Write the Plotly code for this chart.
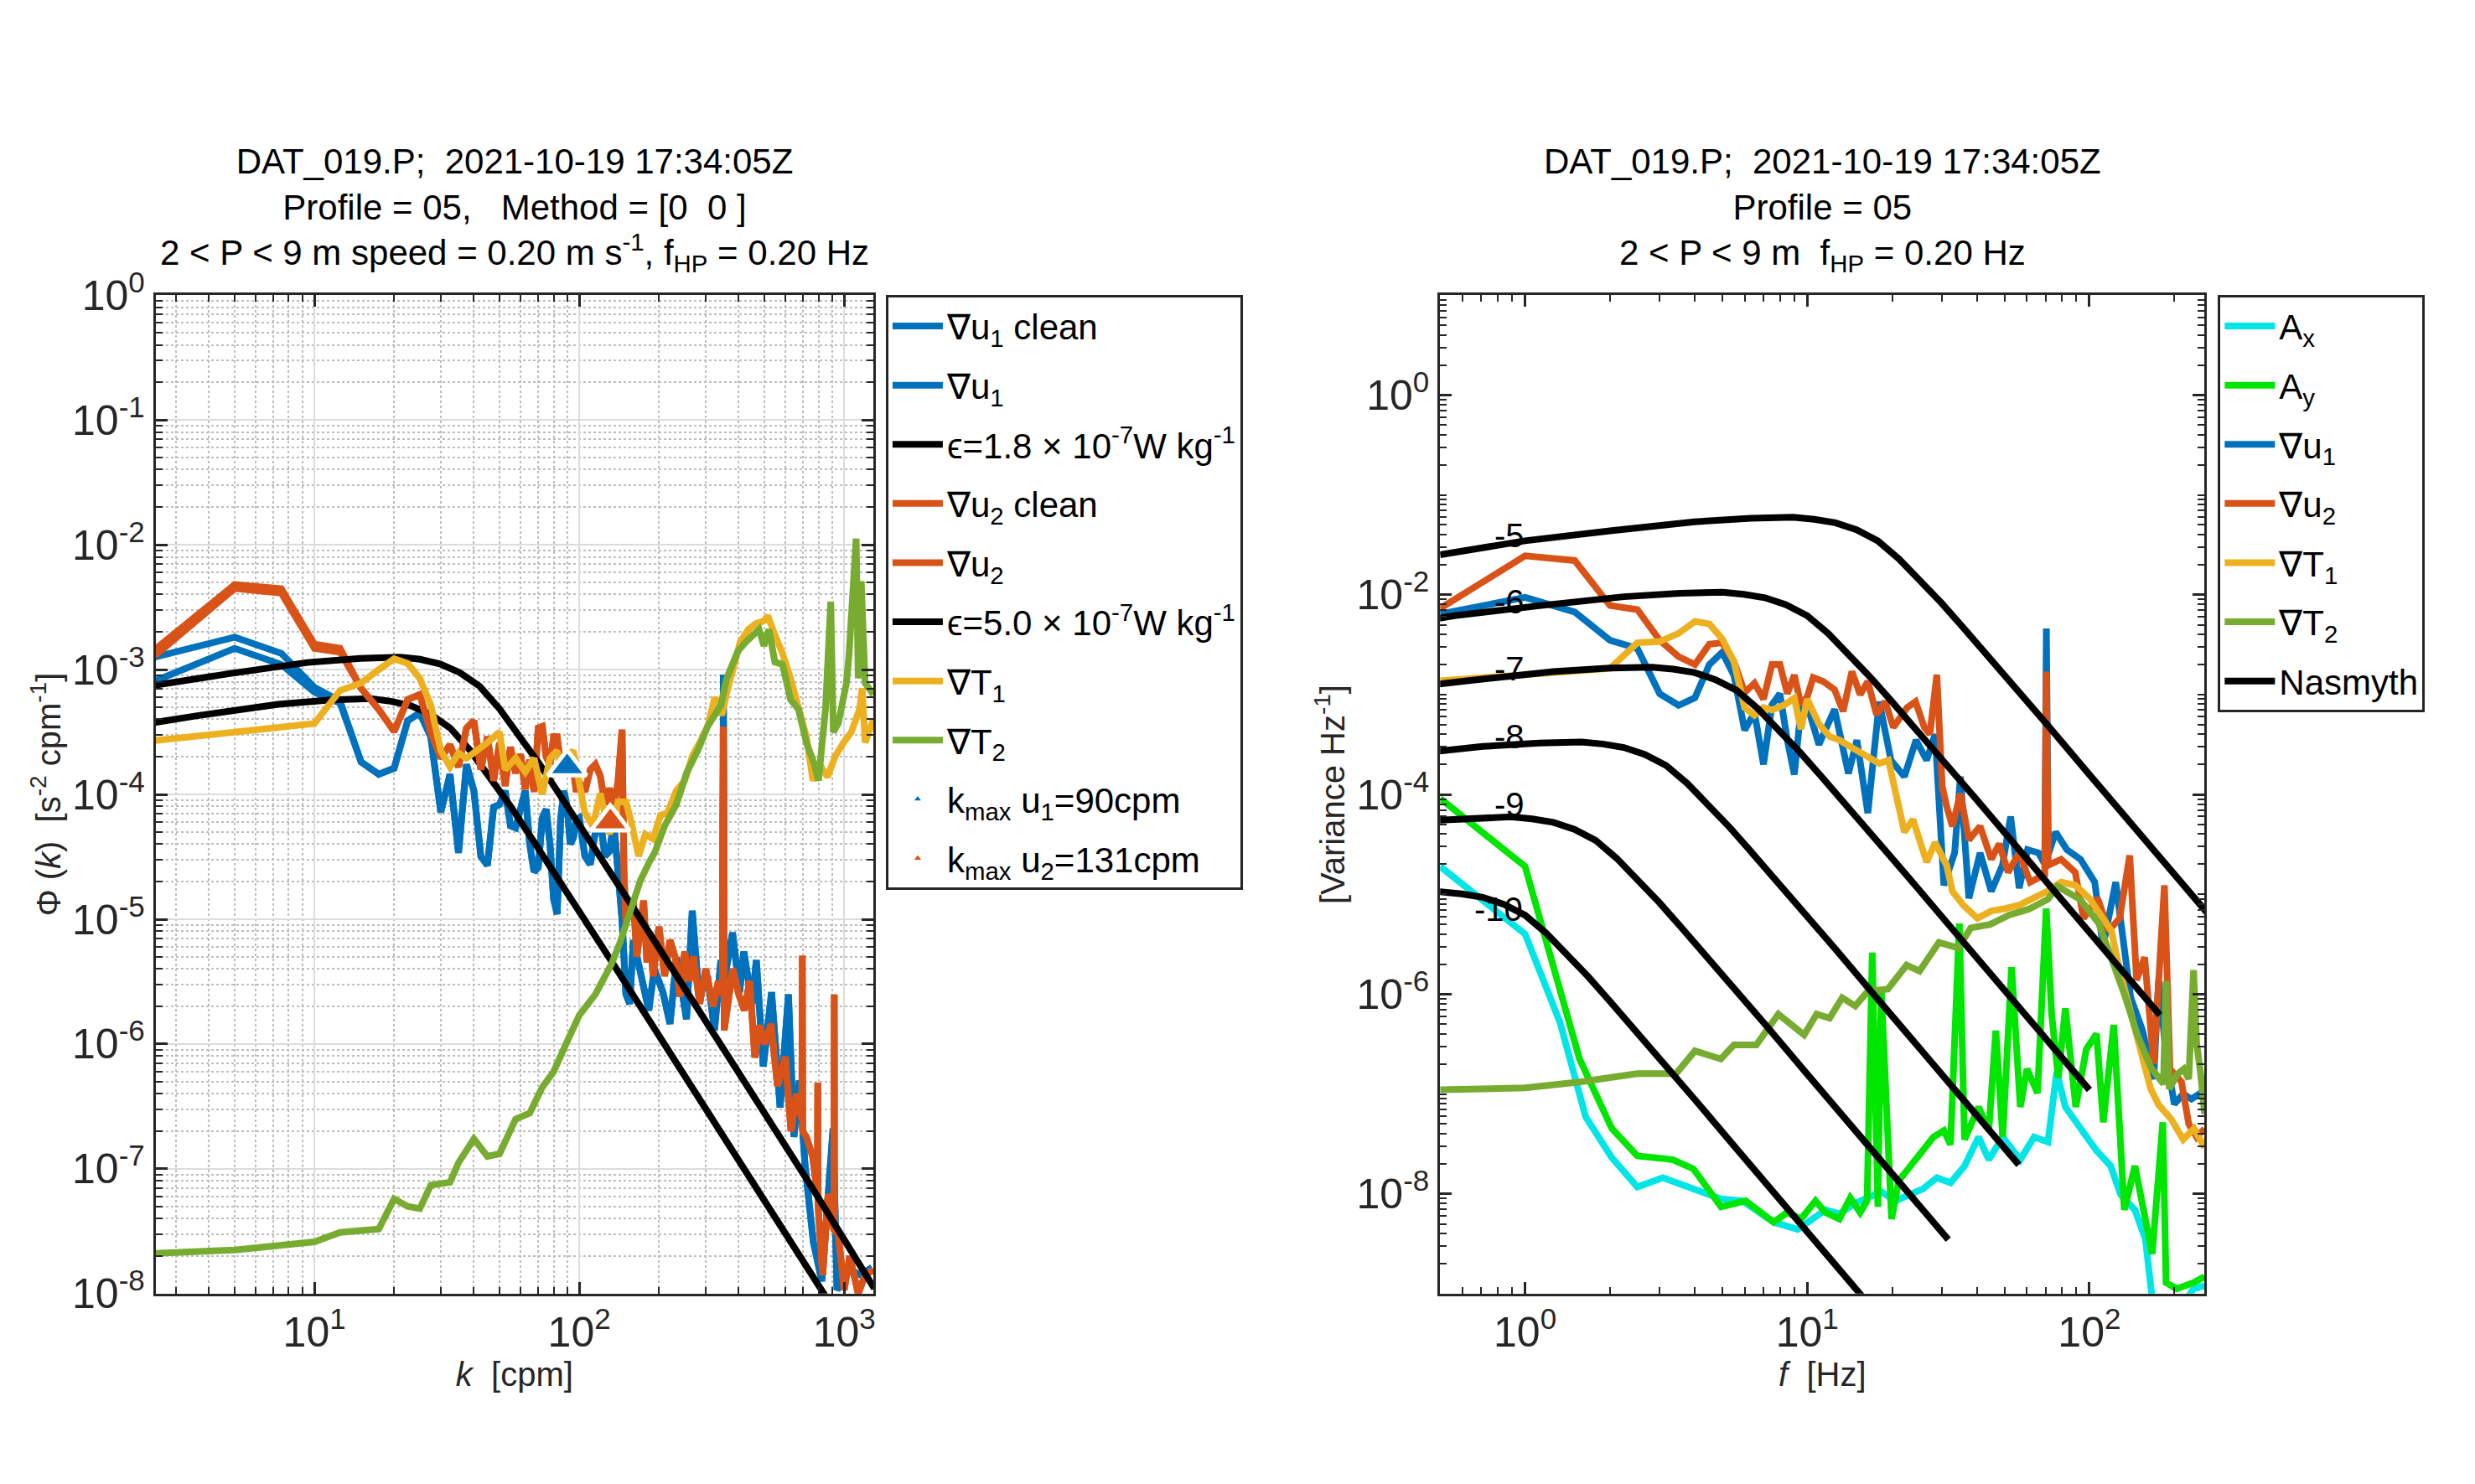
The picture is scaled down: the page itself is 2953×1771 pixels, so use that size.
"""
Shear-probe spectra for DAT_019.P, profile 05: wavenumber spectra with Nasmyth
fits (left) and frequency spectra of every channel with a Nasmyth family (right).
"""

import numpy as np
import plotly.graph_objects as go

# ---------------- left panel: wavenumber spectra [cpm, s^-2 cpm^-1] ----------------
K_LOW = [2.5, 5, 7.5, 10, 12.5]
U1_LOW_CLEAN = [8.1e-4, 1.48e-3, 1.10e-3, 6.6e-4, 5.4e-4]
U1_LOW = [1.26e-3, 1.82e-3, 1.35e-3, 7.2e-4, 5.6e-4]
U2_LOW_CLEAN = [1.29e-3, 4.47e-3, 4.1e-3, 1.48e-3, 1.38e-3]
U2_LOW = [1.45e-3, 4.8e-3, 4.45e-3, 1.6e-3, 1.48e-3]

K_U1 = [15, 17.5, 20, 22.5, 25, 27.5, 30, 32.5, 35, 37.5, 40, 42.5, 45, 47.5, 50,
        52.5, 55, 57.5, 60, 62.5, 65, 67.5, 70, 72.5, 75, 77.5, 80, 82.5, 85, 87.5,
        90, 92.5, 95, 97.5, 100, 105, 110, 115, 120, 125, 130, 135, 140, 145, 150,
        155, 160, 170, 183, 192, 207, 220, 233, 254, 267, 283, 305, 324, 342.5,
        347.5, 350, 352.5, 379, 403, 418, 449, 466, 495, 532, 573, 616, 646, 678,
        711, 765, 824, 908, 940, 1050, 1156, 1274]
PHI_U1 = [1.82e-4, 1.45e-4, 1.62e-4, 3.9e-4, 4.5e-4, 2.9e-4, 7.2e-5, 1.45e-4, 3.4e-5,
          1.74e-4, 1.07e-4, 3.2e-5, 2.7e-5, 7.9e-5, 8.3e-5, 1.07e-4, 5.6e-5, 5.4e-5,
          7.9e-5, 1.07e-4, 4.0e-5, 2.4e-5, 2.6e-5, 6.5e-5, 7.6e-5, 4.0e-5, 1.45e-5,
          1.10e-5, 6.3e-5, 1.07e-4, 7.9e-5, 4.0e-5, 4.5e-5, 6.3e-5, 6.5e-5, 3.2e-5,
          2.75e-5, 5.0e-5, 6.3e-5, 3.2e-5, 3.5e-5, 5.9e-5, 2.4e-5, 1.0e-5, 2.5e-6,
          2.1e-6, 6.8e-6, 3.6e-6, 1.86e-6, 4.0e-6, 2.6e-6, 1.45e-6, 4.9e-6, 1.58e-6,
          1.17e-5, 2.4e-6, 3.5e-6, 1.29e-6, 4.7e-6, 4.0e-6, 9.1e-4, 3.2e-6, 7.8e-6,
          2.6e-6, 5.5e-6, 2.1e-6, 4.7e-6, 6.6e-7, 2.6e-6, 3.1e-7, 2.5e-6, 1.8e-7,
          5.1e-7, 1.10e-7, 2.6e-8, 1.26e-8, 2.1e-7, 1.07e-8, 1.55e-8, 1.41e-8, 1.62e-8]

K_U2 = [15, 17.5, 20, 22.5, 25, 27.5, 30, 32.5, 35, 37.5, 40, 42.5, 45, 47.5, 50,
        52.5, 55, 57.5, 60, 62.5, 65, 67.5, 70, 72.5, 75, 77.5, 80, 82.5, 85, 87.5,
        90, 92.5, 95, 97.5, 100, 105, 110, 115, 120, 125, 130, 135, 140, 145, 147.5,
        150, 155, 160, 165, 170, 175, 180, 185, 190, 195, 200, 210, 220, 230, 240,
        250, 260, 270, 285, 300, 320, 335, 347.5, 350, 352.5, 380, 400, 420, 440,
        460, 480, 500, 530, 560, 600, 630, 660, 692.5, 695, 697.5, 720, 760, 792.5,
        795, 797.5, 830, 870, 915, 917.5, 920, 950, 1000, 1050, 1130, 1200, 1290]
PHI_U2 = [7.1e-4, 4.8e-4, 3.2e-4, 5.75e-4, 6.3e-4, 3.16e-4, 1.95e-4, 2.5e-4, 1.66e-4,
          3.4e-4, 3.9e-4, 1.58e-4, 2.9e-4, 1.29e-4, 2.6e-4, 1.17e-4, 2.4e-4, 1.48e-4,
          2.1e-4, 1.10e-4, 1.9e-4, 1.05e-4, 3.4e-4, 3.5e-4, 2.0e-4, 1.74e-4, 2.9e-4,
          2.9e-4, 1.74e-4, 1.74e-4, 2.0e-4, 2.24e-4, 1.58e-4, 1.05e-4, 1.26e-4,
          1.05e-4, 1.58e-4, 1.74e-4, 1.41e-4, 8.3e-5, 1.12e-4, 7.9e-5, 1.26e-4, 3.3e-4,
          2.4e-5, 9.5e-6, 1.12e-5, 1.41e-5, 5.0e-6, 8.9e-6, 1.41e-5, 4.5e-6, 7.9e-6,
          3.5e-6, 6.3e-6, 8.7e-6, 3.5e-6, 6.8e-6, 5.0e-6, 2.4e-6, 5.5e-6, 3.2e-6,
          5.0e-6, 2.1e-6, 4.0e-6, 2.0e-6, 3.2e-6, 2.5e-6, 3.5e-4, 1.29e-6, 4.0e-6,
          2.5e-6, 1.86e-6, 3.2e-6, 7.8e-7, 1.41e-6, 1.0e-6, 1.45e-6, 4.6e-7, 7.9e-7,
          2.0e-7, 4.0e-7, 2.5e-7, 5.1e-6, 2.0e-7, 1.8e-7, 1.26e-7, 6.3e-8, 4.9e-7,
          5.0e-8, 1.41e-8, 6.3e-8, 3.2e-8, 2.5e-6, 3.2e-8, 3.0e-8, 1.07e-8, 2.0e-8,
          1.0e-8, 1.41e-8, 1.55e-8]

K_T1 = [2.5, 5, 7.5, 10, 12.5, 15, 17.5, 20, 22.5, 25, 27.5, 30, 32.5, 35, 37.5, 42.5,
        45, 50, 52.5, 57.5, 62.5, 67.5, 72.5, 77.5, 82.5, 85, 90, 95, 100, 105, 112.5,
        120, 130, 140, 150, 157.5, 167.5, 177.5, 190, 202.5, 215, 232.5, 250, 267.5,
        285, 305, 325, 345, 360, 377.5, 405, 435, 465, 497.5, 515, 547.5, 585, 627.5,
        672.5, 720, 762.5, 807.5, 865, 927.5, 995, 1065, 1142.5, 1170, 1200, 1290]
PHI_T1 = [2.7e-4, 3.16e-4, 3.4e-4, 3.7e-4, 6.8e-4, 7.8e-4, 1.0e-3, 1.22e-3, 1.12e-3,
          8.5e-4, 5.2e-4, 2.24e-4, 1.66e-4, 2.14e-4, 1.95e-4, 2.34e-4, 2.6e-4, 3.16e-4,
          1.58e-4, 1.95e-4, 1.51e-4, 1.95e-4, 1.0e-4, 1.95e-4, 2.24e-4, 1.58e-4,
          2.0e-4, 2.24e-4, 1.17e-4, 7.1e-5, 5.6e-5, 1.02e-4, 4.8e-5, 8.7e-5, 8.7e-5,
          5.9e-5, 3.2e-5, 4.8e-5, 4.4e-5, 6.8e-5, 7.1e-5, 1.07e-4, 1.29e-4, 2.04e-4,
          2.6e-4, 3.5e-4, 6.0e-4, 4.3e-4, 6.5e-4, 9.1e-4, 1.66e-3, 2.1e-3, 2.34e-3,
          2.45e-3, 2.7e-3, 1.9e-3, 1.35e-3, 8.5e-4, 4.8e-4, 2.9e-4, 1.29e-4, 1.74e-4,
          1.38e-4, 2.04e-4, 2.6e-4, 3.16e-4, 4.8e-4, 7.1e-4, 2.6e-4, 4.0e-4]

K_T2 = [2.5, 5, 10, 12.5, 17.5, 20, 22.5, 25, 27.5, 32.5, 35, 40, 45, 50, 57.5, 65,
        72.5, 80, 90, 100, 115, 132.5, 142.5, 155, 170, 185, 192.5, 210, 232.5, 255,
        280, 305, 342.5, 360, 397.5, 425, 455, 477.5, 497.5, 520, 547.5, 585, 627.5,
        672.5, 720, 772.5, 800, 850, 890, 910, 950, 1020, 1042.5, 1110, 1130, 1160,
        1200, 1290]
PHI_T2 = [2.1e-8, 2.24e-8, 2.6e-8, 3.1e-8, 3.3e-8, 5.75e-8, 5.0e-8, 4.8e-8, 7.4e-8,
          7.8e-8, 1.12e-7, 1.74e-7, 1.26e-7, 1.32e-7, 2.5e-7, 2.8e-7, 4.5e-7, 6.0e-7,
          1.05e-6, 1.7e-6, 2.5e-6, 4.4e-6, 6.5e-6, 1.15e-5, 2.04e-5, 2.95e-5, 3.4e-5,
          5.6e-5, 8.3e-5, 1.51e-4, 2.24e-4, 3.5e-4, 5.2e-4, 8.5e-4, 1.41e-3, 1.66e-3,
          1.9e-3, 2.1e-3, 1.55e-3, 2.1e-3, 1.15e-3, 1.10e-3, 5.75e-4, 4.8e-4, 2.6e-4,
          1.74e-4, 1.29e-4, 4.8e-4, 3.5e-3, 3.16e-4, 3.7e-4, 7.8e-4, 1.29e-3, 1.12e-2,
          8.5e-4, 5.1e-3, 7.8e-4, 6.3e-4]

# Nasmyth fits, eps = 1.8e-7 and 5.0e-7 W/kg
K_NAS_LO = [0.916, 1.832, 3.656, 7.295, 11.56, 16.33, 19.41, 23.07, 27.42, 32.58, 38.73,
            46.03, 54.70, 65.01, 91.83, 129.7, 183.2, 290.4, 579.4, 900]
PHI_NAS_LO = [2.47e-4, 3.40e-4, 4.29e-4, 5.27e-4, 5.71e-4, 5.85e-4, 5.58e-4, 5.15e-4,
              4.39e-4, 3.40e-4, 2.25e-4, 1.39e-4, 8.17e-5, 4.70e-5, 1.56e-5, 4.92e-6,
              1.56e-6, 3.40e-7, 3.40e-8, 7.9e-9]
K_NAS_HI = [1.183, 2.366, 4.721, 9.419, 14.93, 21.09, 25.06, 29.79, 35.40, 42.07, 50.0,
            59.43, 70.63, 83.95, 118.6, 167.5, 236.6, 375.0, 748.2, 1300]
PHI_NAS_HI = [5.32e-4, 7.35e-4, 9.25e-4, 1.14e-3, 1.23e-3, 1.26e-3, 1.21e-3, 1.11e-3,
              9.46e-4, 7.35e-4, 4.85e-4, 2.99e-4, 1.76e-4, 1.01e-4, 3.36e-5, 1.06e-5,
              3.36e-6, 7.35e-7, 7.35e-8, 1.1e-8]

K_MAX = [90, 131]
PHI_K_MAX = [1.66e-4, 6.0e-5]

# ---------------- right panel: frequency spectra [Hz, variance Hz^-1] ----------------
F_AX = [0.5, 1.0, 1.33, 1.64, 2.03, 2.5, 3.08, 3.8, 4.94, 5.9, 7.6, 9.25, 10.5, 11.6, 13,
        14.6, 16.3, 18.3, 20.5, 23, 25.7, 28.8, 32.2, 36.1, 40.5, 44, 49.3, 56.9, 63.7,
        71.3, 76.6, 82.2, 89.5, 97.5, 106, 119, 129, 145, 158, 167, 180, 215, 234, 256]
V_AX = [1.9e-5, 4.0e-6, 5.2e-7, 5.9e-8, 2.3e-8, 1.17e-8, 1.45e-8, 1.17e-8, 8.9e-9,
        8.5e-9, 5.2e-9, 4.4e-9, 5.6e-9, 6.9e-9, 6.3e-9, 7.9e-9, 9.1e-9, 1.05e-8, 8.5e-9,
        9.8e-9, 1.12e-8, 1.45e-8, 1.29e-8, 1.9e-8, 3.7e-8, 2.2e-8, 3.7e-8, 2.2e-8,
        3.7e-8, 3.3e-8, 1.66e-7, 7.4e-8, 5.2e-8, 3.7e-8, 2.7e-8, 1.9e-8, 9.8e-9, 6.9e-9,
        3.5e-9, 8.9e-10, 6.3e-10, 7.9e-10, 1.12e-9, 1.2e-9]

F_AY = [0.5, 1.0, 1.56, 2.03, 2.5, 3.33, 3.95, 4.95, 6.05, 7.6, 8.5, 9.5, 10.7, 11.6, 13,
        14.2, 15.4, 16.3, 17, 17.8, 18.3, 19.9, 21.1, 24.3, 28, 30.5, 32.2, 34.6, 36.1,
        40.5, 44, 46.6, 49.3, 53, 56.9, 60.1, 65.5, 70.3, 73.5, 77.6, 82.2, 89.5, 97.5,
        106, 112, 122, 133, 145, 158, 167, 182, 187, 204, 234, 256]
V_AY = [9.1e-5, 1.9e-5, 2.24e-7, 4.5e-8, 2.4e-8, 2.2e-8, 1.78e-8, 7.4e-9, 8.5e-9, 5.2e-9,
        6.5e-9, 5.6e-9, 8.5e-9, 6.5e-9, 5.6e-9, 9.1e-9, 6.5e-9, 8.5e-9, 2.6e-6, 7.4e-9,
        1.1e-6, 5.6e-9, 1.35e-8, 2.2e-8, 3.7e-8, 4.3e-8, 3.1e-8, 5.1e-6, 3.5e-8, 7.4e-8,
        4.3e-8, 4.3e-7, 3.7e-8, 1.86e-6, 7.4e-8, 1.78e-7, 1.02e-7, 7.2e-6, 6.3e-7,
        1.45e-7, 7.2e-7, 7.4e-8, 2.8e-7, 4.0e-7, 5.2e-8, 4.9e-7, 6.9e-9, 1.9e-8, 5.0e-9,
        2.5e-9, 5.2e-8, 1.29e-9, 1.12e-9, 1.29e-9, 1.48e-9]

F_U1 = [0.5, 1.0, 1.5, 2.0, 2.5, 3.0, 3.5, 4.0, 4.5, 5.0, 5.5, 6.0, 6.5, 7.0, 7.5, 8.0,
        8.5, 9.0, 9.5, 10, 11, 12.5, 14, 15, 16.4, 18, 19.8, 22.1, 24.3, 26.5, 28.4,
        30.5, 33.3, 34.9, 37.4, 41, 44.9, 49.2, 52.6, 56.4, 60.4, 66, 69.5, 70.4, 71.5,
        75.9, 83.2, 93, 104.5, 111.7, 124, 134, 140, 154, 169, 176, 187, 200, 215, 230,
        245, 256]
V_U1 = [6.4e-3, 9.4e-3, 6.7e-3, 3.5e-3, 2.9e-3, 1.02e-3, 7.8e-4, 9.3e-4, 2.0e-3, 2.65e-3,
        1.55e-3, 4.4e-4, 6.6e-4, 2.0e-4, 7.9e-4, 1.02e-3, 3.5e-4, 1.58e-4, 7.1e-4, 7.9e-4,
        3.16e-4, 7.1e-4, 1.62e-4, 3.5e-4, 6.5e-5, 8.5e-4, 2.2e-4, 1.51e-4, 3.5e-4,
        2.2e-4, 4.0e-4, 1.23e-5, 2.6e-5, 1.51e-4, 9.1e-6, 2.6e-5, 1.07e-5, 1.95e-5,
        6.0e-5, 1.15e-5, 2.8e-5, 2.6e-5, 2.0e-5, 4.6e-3, 2.5e-5, 4.2e-5, 2.8e-5, 2.24e-5,
        1.32e-5, 3.0e-6, 1.32e-5, 2.5e-6, 9.3e-7, 4.4e-7, 1.41e-7, 1.38e-6, 2.5e-7,
        7.9e-8, 1.0e-7, 8.9e-8, 1.0e-7, 8.9e-8]

F_U2 = [0.5, 1.0, 1.5, 2.0, 2.5, 3.0, 3.5, 4.0, 4.5, 5.0, 5.5, 6.0, 6.5, 7.0, 7.5, 8.0,
        8.5, 9.0, 9.5, 10, 10.5, 11.4, 12.5, 13.4, 14.4, 15.4, 16.4, 17.6, 18.9, 20.2,
        22.6, 24.2, 26, 27.2, 28.8, 30.1, 31.2, 32.7, 34.9, 37.4, 41, 44.9, 47.9, 51.5,
        56.4, 61.7, 69.5, 70.4, 71.5, 79.4, 89.1, 95.3, 107, 117, 128, 139, 147, 157,
        169, 184.5, 193, 212, 225, 240, 256]
V_U2 = [7.3e-3, 2.45e-2, 2.2e-2, 7.8e-3, 7.1e-3, 3.5e-3, 2.4e-3, 2.0e-3, 3.2e-3, 3.3e-3,
        2.14e-3, 1.05e-3, 1.3e-3, 9.0e-4, 2.0e-3, 2.0e-3, 1.02e-3, 1.57e-3, 7.9e-4,
        9.5e-4, 1.48e-3, 1.35e-3, 1.12e-3, 6.8e-4, 1.7e-3, 1.0e-3, 1.35e-3, 6.3e-4,
        8.5e-4, 4.7e-4, 7.4e-4, 8.5e-4, 4.7e-4, 4.0e-4, 1.58e-3, 1.2e-4, 7.6e-5, 4.8e-5,
        1.02e-4, 3.5e-5, 4.8e-5, 2.24e-5, 3.2e-5, 1.66e-5, 2.6e-5, 1.32e-5, 1.58e-5,
        1.7e-3, 1.95e-5, 2.24e-5, 1.66e-5, 5.75e-6, 9.1e-6, 4.3e-6, 5.75e-6, 2.45e-5,
        1.38e-6, 2.34e-6, 2.0e-7, 1.23e-5, 1.78e-7, 1.32e-7, 5.0e-8, 3.7e-8, 4.5e-8]

F_T1 = [0.5, 1.0, 2.0, 2.5, 3.0, 3.5, 4.0, 4.5, 5.0, 5.5, 6.0, 6.5, 7.0, 7.5, 8.3, 9.0,
        9.5, 10, 11, 12, 13, 14.4, 16.1, 18.0, 19.4, 20.7, 22.1, 23.7, 26.5, 28.4, 31.2,
        32.7, 35.7, 40.1, 44.9, 50.4, 56.4, 63.1, 70.8, 79.4, 89.1, 100, 111.7, 119.7,
        128, 140, 154, 165, 176, 195, 215, 235, 256]
V_T1 = [1.37e-3, 1.57e-3, 1.83e-3, 3.3e-3, 3.4e-3, 4.1e-3, 5.4e-3, 5.1e-3, 3.6e-3,
        2.14e-3, 7.4e-4, 6.2e-4, 7.4e-4, 7.0e-4, 7.9e-4, 9.2e-4, 4.5e-4, 9.0e-4, 5.1e-4,
        3.8e-4, 3.5e-4, 2.95e-4, 2.4e-4, 2.04e-4, 2.2e-4, 8.9e-5, 4.2e-5, 5.6e-5, 2.1e-5,
        3.3e-5, 1.95e-5, 1.07e-5, 7.8e-6, 5.75e-6, 6.8e-6, 7.2e-6, 7.8e-6, 9.1e-6,
        1.07e-5, 1.32e-5, 1.23e-5, 9.1e-6, 5.75e-6, 4.3e-6, 1.74e-6, 6.5e-7, 2.4e-7,
        1.12e-7, 7.8e-8, 5.6e-8, 3.5e-8, 4.5e-8, 2.9e-8]

F_T2 = [0.5, 1.0, 1.56, 2.5, 3.43, 4.0, 4.94, 5.5, 6.6, 7.9, 9.75, 10.8, 12, 13.3, 14.8,
        16.4, 19.3, 22.5, 25, 29.3, 34.3, 38, 44.5, 52, 61, 71.3, 77, 92.7, 108, 127, 133,
        148, 165, 183, 187, 192, 205, 216, 225, 234, 240, 248, 256]
V_T2 = [1.1e-7, 1.15e-7, 1.32e-7, 1.6e-7, 1.6e-7, 2.7e-7, 2.24e-7, 3.1e-7, 3.1e-7, 6.3e-7,
        3.9e-7, 6.3e-7, 5.75e-7, 9.2e-7, 7.6e-7, 1.07e-6, 1.12e-6, 1.95e-6, 1.7e-6,
        3.3e-6, 2.9e-6, 4.6e-6, 5.0e-6, 6.2e-6, 7.1e-6, 8.9e-6, 1.2e-5, 8.9e-6, 5.1e-6,
        1.48e-6, 1.0e-6, 3.9e-7, 1.86e-7, 1.26e-7, 1.35e-6, 1.12e-7, 1.58e-7, 1.78e-7,
        1.41e-7, 1.74e-6, 3.2e-7, 1.58e-7, 6.3e-8]

# Nasmyth family, log10(eps) = -5 ... -10
NAS_F_5 = [0.5, 1.0, 2.0, 3.98, 6.31, 8.91, 10.59, 12.59, 14.96, 17.78, 21.13, 25.12,
           29.85, 35.48, 50.12, 70.79, 100.0, 158.5, 316.2]
NAS_V_5 = [2.51e-2, 3.47e-2, 4.37e-2, 5.37e-2, 5.82e-2, 5.96e-2, 5.69e-2, 5.25e-2,
           4.47e-2, 3.47e-2, 2.29e-2, 1.41e-2, 8.32e-3, 4.79e-3, 1.58e-3, 5.01e-4,
           1.58e-4, 3.47e-5, 3.47e-6]
NAS_F_6 = [0.281, 0.562, 1.122, 2.239, 3.548, 5.012, 5.957, 7.079, 8.414, 10.0, 11.89,
           14.13, 16.79, 19.95, 28.18, 39.81, 56.23, 89.13, 177.8]
NAS_V_6 = [4.47e-3, 6.17e-3, 7.76e-3, 9.55e-3, 1.035e-2, 1.06e-2, 1.01e-2, 9.33e-3,
           7.94e-3, 6.17e-3, 4.07e-3, 2.51e-3, 1.48e-3, 8.51e-4, 2.82e-4, 8.91e-5,
           2.82e-5, 6.17e-6, 6.17e-7]
NAS_F_7 = [0.158, 0.316, 0.631, 1.259, 1.995, 2.818, 3.350, 3.981, 4.732, 5.623, 6.683,
           7.943, 9.441, 11.22, 15.85, 22.39, 31.62, 50.12, 100.0]
NAS_V_7 = [7.94e-4, 1.10e-3, 1.38e-3, 1.70e-3, 1.84e-3, 1.88e-3, 1.80e-3, 1.66e-3,
           1.41e-3, 1.10e-3, 7.24e-4, 4.47e-4, 2.63e-4, 1.51e-4, 5.01e-5, 1.58e-5,
           5.01e-6, 1.10e-6, 1.10e-7]
NAS_F_8 = [0.0889, 0.178, 0.355, 0.708, 1.122, 1.585, 1.884, 2.239, 2.661, 3.162, 3.758,
           4.467, 5.309, 6.310, 8.913, 12.59, 17.78, 28.18, 56.23]
NAS_V_8 = [1.41e-4, 1.95e-4, 2.45e-4, 3.02e-4, 3.27e-4, 3.35e-4, 3.20e-4, 2.95e-4,
           2.51e-4, 1.95e-4, 1.29e-4, 7.94e-5, 4.68e-5, 2.69e-5, 8.91e-6, 2.82e-6,
           8.91e-7, 1.95e-7, 1.95e-8]
NAS_F_9 = [0.05, 0.1, 0.2, 0.398, 0.631, 0.891, 1.059, 1.259, 1.496, 1.778, 2.113, 2.512,
           2.985, 3.548, 5.012, 7.079, 10.0, 15.85, 31.62]
NAS_V_9 = [2.51e-5, 3.47e-5, 4.37e-5, 5.37e-5, 5.82e-5, 5.96e-5, 5.69e-5, 5.25e-5,
           4.47e-5, 3.47e-5, 2.29e-5, 1.41e-5, 8.32e-6, 4.79e-6, 1.58e-6, 5.01e-7,
           1.58e-7, 3.47e-8, 3.47e-9]
NAS_F_10 = [0.0281, 0.0562, 0.112, 0.224, 0.355, 0.501, 0.596, 0.708, 0.841, 1.0, 1.189,
            1.413, 1.679, 1.995, 2.818, 3.981, 5.623, 8.913, 17.78]
NAS_V_10 = [4.47e-6, 6.17e-6, 7.76e-6, 9.55e-6, 1.035e-5, 1.06e-5, 1.01e-5, 9.33e-6,
            7.94e-6, 6.17e-6, 4.07e-6, 2.51e-6, 1.48e-6, 8.51e-7, 2.82e-7, 8.91e-8,
            2.82e-8, 6.17e-9, 6.17e-10]

NAS_LABELS = ["-5", "-6", "-7", "-8", "-9", "-10"]
NAS_LABEL_F = [0.77, 0.77, 0.77, 0.77, 0.77, 0.65]
NAS_LABEL_V = [3.9e-2, 8.5e-3, 1.83e-3, 3.8e-4, 8.0e-5, 7.1e-6]

# tick positions and labels
LEFT_X_TICKS = [10, 100, 1000]
LEFT_X_LABELS = ["10<sup>1</sup>", "10<sup>2</sup>", "10<sup>3</sup>"]
LEFT_Y_TICKS = [1e-8, 1e-7, 1e-6, 1e-5, 1e-4, 1e-3, 1e-2, 1e-1, 1]
LEFT_Y_LABELS = ["10<sup>-8</sup>", "10<sup>-7</sup>", "10<sup>-6</sup>", "10<sup>-5</sup>",
                 "10<sup>-4</sup>", "10<sup>-3</sup>", "10<sup>-2</sup>", "10<sup>-1</sup>",
                 "10<sup>0</sup>"]
RIGHT_X_TICKS = [1, 10, 100]
RIGHT_X_LABELS = ["10<sup>0</sup>", "10<sup>1</sup>", "10<sup>2</sup>"]
RIGHT_Y_TICKS = [1e-8, 1e-6, 1e-4, 1e-2, 1]
RIGHT_Y_LABELS = ["10<sup>-8</sup>", "10<sup>-6</sup>", "10<sup>-4</sup>", "10<sup>-2</sup>",
                  "10<sup>0</sup>"]

# ---------------- style ----------------
FONT = "Liberation Sans"
INK = "#262626"
BLUE = "#0072BD"
ORANGE = "#D95319"
YELLOW = "#EDB120"
GREEN = "#77AC30"
CYAN = "#00E6E6"
LIME = "#00E600"
W, H = 2953, 1771


def log_axis(domain, rng, ticks, labels, grid, anchor, title, standoff):
    """
    Log axis drawn as a closed MATLAB-style box with inside ticks.

    Args:
        domain: paper-fraction extent of the axis
        rng: axis range in log10 units
        ticks, labels: major tick values and their texts
        grid: whether to draw major (solid) and minor (dotted) grid lines
        anchor: id of the crossing axis
        title: axis title text
        standoff: gap between tick labels and title

    Returns:
        A dict for fig.update_layout.
    """
    return dict(
        type="log", domain=domain, range=rng, anchor=anchor,
        tickmode="array", tickvals=ticks, ticktext=labels,
        showline=True, linecolor=INK, linewidth=3, mirror="allticks",
        ticks="inside", ticklen=14, tickwidth=3, tickcolor=INK,
        tickfont=dict(family=FONT, size=50, color=INK), zeroline=False,
        showgrid=grid, gridcolor="#DCDCDC", gridwidth=2,
        minor=dict(ticks="inside", ticklen=8, tickwidth=2, tickcolor=INK,
                   dtick="D1", showgrid=grid, gridcolor="#BDBDBD",
                   griddash="dot", gridwidth=2),
        title=dict(text=title, standoff=standoff,
                   font=dict(family=FONT, size=40, color=INK)),
    )


def line(x, y, name, color, panel, group, showlegend=True):
    """
    One spectrum drawn as a thick line on the left (1) or right (2) panel.
    """
    axes = ("x", "y", "legend") if panel == 1 else ("x2", "y2", "legend2")
    return go.Scatter(
        x=x, y=y, mode="lines", name=name,
        line=dict(color=color, width=8),
        xaxis=axes[0], yaxis=axes[1], legend=axes[2],
        legendgroup=group, showlegend=showlegend,
    )


fig = go.Figure()

# left panel, in MATLAB drawing order
fig.add_trace(line(K_LOW + K_U1, U1_LOW_CLEAN + PHI_U1, "∇u<sub>1</sub> clean", BLUE, 1, "a1"))
fig.add_trace(line(K_LOW + K_U1, U1_LOW + PHI_U1, "∇u<sub>1</sub>", BLUE, 1, "a2"))
fig.add_trace(line(K_NAS_LO, PHI_NAS_LO,
                   "ϵ=1.8 × 10<sup>-7</sup>W kg<sup>-1</sup>", "black", 1, "a3"))
fig.add_trace(line(K_LOW + K_U2, U2_LOW_CLEAN + PHI_U2, "∇u<sub>2</sub> clean", ORANGE, 1, "a4"))
fig.add_trace(line(K_LOW + K_U2, U2_LOW + PHI_U2, "∇u<sub>2</sub>", ORANGE, 1, "a5"))
fig.add_trace(line(K_NAS_HI, PHI_NAS_HI,
                   "ϵ=5.0 × 10<sup>-7</sup>W kg<sup>-1</sup>", "black", 1, "a6"))
fig.add_trace(line(K_T1, PHI_T1, "∇T<sub>1</sub>", YELLOW, 1, "a7"))
fig.add_trace(line(K_T2, PHI_T2, "∇T<sub>2</sub>", GREEN, 1, "a8"))
for i, (label, color) in enumerate([("k<sub>max</sub> u<sub>1</sub>=90cpm", BLUE),
                                     ("k<sub>max</sub> u<sub>2</sub>=131cpm", ORANGE)]):
    fig.add_trace(go.Scatter(
        x=[K_MAX[i]], y=[PHI_K_MAX[i]], mode="markers", name=label,
        marker=dict(symbol="triangle-up", size=40, color=color,
                    line=dict(color="white", width=5)),
        xaxis="x", yaxis="y", legend="legend", legendgroup="m%d" % i,
    ))

# right panel
fig.add_trace(line(F_AX, V_AX, "A<sub>x</sub>", CYAN, 2, "b1"))
fig.add_trace(line(F_AY, V_AY, "A<sub>y</sub>", LIME, 2, "b2"))
fig.add_trace(line(F_U1, V_U1, "∇u<sub>1</sub>", BLUE, 2, "b3"))
fig.add_trace(line(F_U2, V_U2, "∇u<sub>2</sub>", ORANGE, 2, "b4"))
fig.add_trace(line(F_T1, V_T1, "∇T<sub>1</sub>", YELLOW, 2, "b5"))
fig.add_trace(line(F_T2, V_T2, "∇T<sub>2</sub>", GREEN, 2, "b6"))
nasmyth = [(NAS_F_5, NAS_V_5), (NAS_F_6, NAS_V_6), (NAS_F_7, NAS_V_7),
           (NAS_F_8, NAS_V_8), (NAS_F_9, NAS_V_9), (NAS_F_10, NAS_V_10)]
for i, (f, v) in enumerate(nasmyth):
    fig.add_trace(line(f, v, "Nasmyth", "black", 2, "b7", showlegend=(i == 0)))

annotations = [
    dict(text="DAT_019.P;  2021-10-19 17:34:05Z<br>Profile = 05,   Method = [0  0 ]"
              "<br>2 &lt; P &lt; 9 m speed = 0.20 m s<sup>-1</sup>, f<sub>HP</sub> = 0.20 Hz",
         x=606.5 / W, y=1 - 300 / H),
    dict(text="DAT_019.P;  2021-10-19 17:34:05Z<br>Profile = 05"
              "<br>2 &lt; P &lt; 9 m  f<sub>HP</sub> = 0.20 Hz",
         x=2168.5 / W, y=1 - 300 / H),
]
for a in annotations:
    a.update(xref="paper", yref="paper", xanchor="center", yanchor="bottom",
             showarrow=False, font=dict(family=FONT, size=42, color="black"))

for text, f, v in zip(NAS_LABELS, NAS_LABEL_F, NAS_LABEL_V):
    annotations.append(dict(
        text=text, x=np.log10(f), y=np.log10(v), xref="x2", yref="y2",
        xanchor="left", yanchor="middle", showarrow=False,
        font=dict(family=FONT, size=40, color="black"),
    ))

legend_style = dict(
    yanchor="top", xanchor="left", y=1 - 320 / H,
    bgcolor="white", bordercolor=INK, borderwidth=3,
    font=dict(family=FONT, size=42, color="black"),
    tracegroupgap=13, itemwidth=60,
)

y_dom = [1 - 1557 / H, 1 - 320 / H]
fig.update_layout(
    width=W, height=H, margin=dict(l=0, r=0, t=0, b=0),
    paper_bgcolor="white", plot_bgcolor="white",
    font=dict(family=FONT, color=INK),
    xaxis=log_axis([178 / W, 1035 / W], [0.401, 3.11], LEFT_X_TICKS, LEFT_X_LABELS,
                   True, "y", "<i>k</i>  [cpm]", 6),
    yaxis=log_axis(y_dom, [-8, 0], LEFT_Y_TICKS, LEFT_Y_LABELS, True, "x",
                   "Φ (<i>k</i>)  [s<sup>-2</sup> cpm<sup>-1</sup>]", 2),
    xaxis2=log_axis([1712 / W, 2625 / W], [np.log10(0.5), np.log10(256)],
                    RIGHT_X_TICKS, RIGHT_X_LABELS, False, "y2", "<i>f</i>  [Hz]", 6),
    yaxis2=log_axis(y_dom, [-9, 1], RIGHT_Y_TICKS, RIGHT_Y_LABELS, False, "x2",
                    "[Variance Hz<sup>-1</sup>]", 2),
    legend=dict(legend_style, x=1050 / W),
    legend2=dict(legend_style, x=2641 / W),
    annotations=annotations,
    showlegend=True,
)

fig.write_html("out.html")
